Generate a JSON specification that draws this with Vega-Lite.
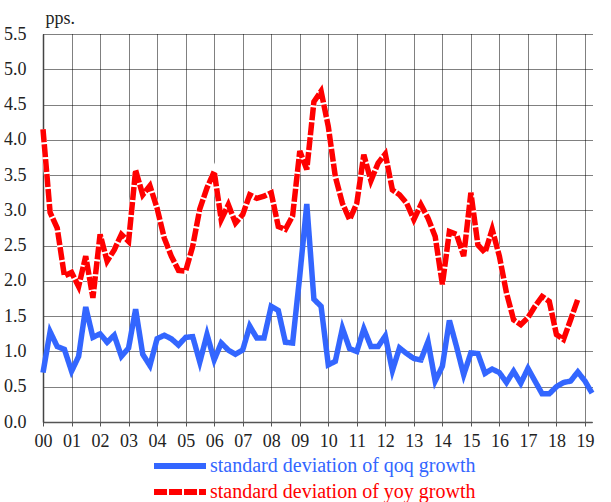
{
  "$schema": "https://vega.github.io/schema/vega-lite/v6.json",
  "width": 549,
  "height": 388,
  "autosize": {"type": "none"},
  "padding": {"left": 43, "top": 34, "right": 19, "bottom": 80},
  "background": "white",
  "config": {
    "view": {"stroke": null},
    "font": "Liberation Serif, DejaVu Serif, serif",
    "legend": {
      "orient": "none",
      "legendX": 125,
      "legendY": 420,
      "direction": "vertical",
      "symbolType": "M-3,0H3",
      "symbolSize": 300,
      "symbolStrokeWidth": 6,
      "labelFont": "Liberation Serif, DejaVu Serif, serif",
      "labelFontSize": 20,
      "labelOffset": 18,
      "labelLimit": 400,
      "rowPadding": 2,
      "labelColor": {"expr": "datum.value == 'qoq' ? '#3366ff' : '#ff0000'"}
    }
  },
  "data": {
    "values": [
      {"date": "2000-01-01", "qoq": 0.70, "yoy": 4.15},
      {"date": "2000-04-01", "qoq": 1.28, "yoy": 2.97},
      {"date": "2000-07-01", "qoq": 1.07, "yoy": 2.75},
      {"date": "2000-10-01", "qoq": 1.03, "yoy": 2.07},
      {"date": "2001-01-01", "qoq": 0.72, "yoy": 2.12},
      {"date": "2001-04-01", "qoq": 0.93, "yoy": 1.92},
      {"date": "2001-07-01", "qoq": 1.63, "yoy": 2.35},
      {"date": "2001-10-01", "qoq": 1.20, "yoy": 1.76},
      {"date": "2002-01-01", "qoq": 1.25, "yoy": 2.66},
      {"date": "2002-04-01", "qoq": 1.13, "yoy": 2.28},
      {"date": "2002-07-01", "qoq": 1.23, "yoy": 2.44},
      {"date": "2002-10-01", "qoq": 0.93, "yoy": 2.66},
      {"date": "2003-01-01", "qoq": 1.05, "yoy": 2.56},
      {"date": "2003-04-01", "qoq": 1.60, "yoy": 3.57},
      {"date": "2003-07-01", "qoq": 0.96, "yoy": 3.22},
      {"date": "2003-10-01", "qoq": 0.80, "yoy": 3.35},
      {"date": "2004-01-01", "qoq": 1.18, "yoy": 3.03},
      {"date": "2004-04-01", "qoq": 1.23, "yoy": 2.61},
      {"date": "2004-07-01", "qoq": 1.18, "yoy": 2.35},
      {"date": "2004-10-01", "qoq": 1.09, "yoy": 2.15},
      {"date": "2005-01-01", "qoq": 1.20, "yoy": 2.14},
      {"date": "2005-04-01", "qoq": 1.21, "yoy": 2.49},
      {"date": "2005-07-01", "qoq": 0.85, "yoy": 3.02},
      {"date": "2005-10-01", "qoq": 1.24, "yoy": 3.32},
      {"date": "2006-01-01", "qoq": 0.88, "yoy": 3.55},
      {"date": "2006-04-01", "qoq": 1.12, "yoy": 2.87},
      {"date": "2006-07-01", "qoq": 1.02, "yoy": 3.08},
      {"date": "2006-10-01", "qoq": 0.96, "yoy": 2.82},
      {"date": "2007-01-01", "qoq": 1.02, "yoy": 2.94},
      {"date": "2007-04-01", "qoq": 1.36, "yoy": 3.22},
      {"date": "2007-07-01", "qoq": 1.19, "yoy": 3.17},
      {"date": "2007-10-01", "qoq": 1.19, "yoy": 3.20},
      {"date": "2008-01-01", "qoq": 1.64, "yoy": 3.25},
      {"date": "2008-04-01", "qoq": 1.58, "yoy": 2.77},
      {"date": "2008-07-01", "qoq": 1.13, "yoy": 2.73},
      {"date": "2008-10-01", "qoq": 1.12, "yoy": 2.92},
      {"date": "2009-01-01", "qoq": 2.07, "yoy": 3.84},
      {"date": "2009-04-01", "qoq": 3.09, "yoy": 3.58},
      {"date": "2009-07-01", "qoq": 1.74, "yoy": 4.54},
      {"date": "2009-10-01", "qoq": 1.64, "yoy": 4.69},
      {"date": "2010-01-01", "qoq": 0.81, "yoy": 4.19},
      {"date": "2010-04-01", "qoq": 0.86, "yoy": 3.48},
      {"date": "2010-07-01", "qoq": 1.33, "yoy": 3.10},
      {"date": "2010-10-01", "qoq": 1.04, "yoy": 2.87},
      {"date": "2011-01-01", "qoq": 1.00, "yoy": 3.10},
      {"date": "2011-04-01", "qoq": 1.32, "yoy": 3.79},
      {"date": "2011-07-01", "qoq": 1.07, "yoy": 3.42},
      {"date": "2011-10-01", "qoq": 1.07, "yoy": 3.67},
      {"date": "2012-01-01", "qoq": 1.22, "yoy": 3.80},
      {"date": "2012-04-01", "qoq": 0.73, "yoy": 3.29},
      {"date": "2012-07-01", "qoq": 1.05, "yoy": 3.22},
      {"date": "2012-10-01", "qoq": 0.97, "yoy": 3.10},
      {"date": "2013-01-01", "qoq": 0.90, "yoy": 2.87},
      {"date": "2013-04-01", "qoq": 0.88, "yoy": 3.08},
      {"date": "2013-07-01", "qoq": 1.14, "yoy": 2.89},
      {"date": "2013-10-01", "qoq": 0.58, "yoy": 2.63},
      {"date": "2014-01-01", "qoq": 0.79, "yoy": 1.95},
      {"date": "2014-04-01", "qoq": 1.44, "yoy": 2.70},
      {"date": "2014-07-01", "qoq": 1.07, "yoy": 2.66},
      {"date": "2014-10-01", "qoq": 0.67, "yoy": 2.35},
      {"date": "2015-01-01", "qoq": 0.98, "yoy": 3.25},
      {"date": "2015-04-01", "qoq": 0.97, "yoy": 2.51},
      {"date": "2015-07-01", "qoq": 0.69, "yoy": 2.40},
      {"date": "2015-10-01", "qoq": 0.75, "yoy": 2.73},
      {"date": "2016-01-01", "qoq": 0.70, "yoy": 2.35},
      {"date": "2016-04-01", "qoq": 0.56, "yoy": 1.83},
      {"date": "2016-07-01", "qoq": 0.72, "yoy": 1.45},
      {"date": "2016-10-01", "qoq": 0.55, "yoy": 1.38},
      {"date": "2017-01-01", "qoq": 0.76, "yoy": 1.48},
      {"date": "2017-04-01", "qoq": 0.58, "yoy": 1.64},
      {"date": "2017-07-01", "qoq": 0.40, "yoy": 1.78},
      {"date": "2017-10-01", "qoq": 0.40, "yoy": 1.71},
      {"date": "2018-01-01", "qoq": 0.50, "yoy": 1.24},
      {"date": "2018-04-01", "qoq": 0.56, "yoy": 1.17},
      {"date": "2018-07-01", "qoq": 0.58, "yoy": 1.45},
      {"date": "2018-10-01", "qoq": 0.71, "yoy": 1.74},
      {"date": "2019-01-01", "qoq": 0.58, "yoy": null},
      {"date": "2019-04-01", "qoq": 0.41, "yoy": null}
    ]
  },
  "transform": [{"fold": ["qoq", "yoy"], "as": ["series", "value"]}],
  "encoding": {
    "x": {
      "field": "date",
      "type": "temporal",
      "scale": {
        "type": "utc",
        "domain": [
          {"year": 2000, "month": 1, "date": 1, "utc": true},
          {"year": 2019, "month": 4, "date": 1, "utc": true}
        ]
      },
      "axis": {
        "title": null,
        "tickCount": {"interval": "year", "step": 1},
        "labelExpr": "utcFormat(datum.value, '%y')",
        "grid": true,
        "gridColor": "#000000",
        "gridDash": [1, 1],
        "gridWidth": 1,
        "domainColor": "#555555",
        "domainWidth": 1.5,
        "tickColor": "#555555",
        "tickSize": 4,
        "labelFont": "Liberation Serif, DejaVu Serif, serif",
        "labelFontSize": 18,
        "labelColor": "#222222",
        "labelPadding": 6,
        "labelOverlap": false,
        "labelFlush": false
      }
    },
    "y": {
      "field": "value",
      "type": "quantitative",
      "scale": {"domain": [0, 5.5], "nice": false, "zero": true},
      "axis": {
        "title": "pps.",
        "titleAngle": 0,
        "titleAlign": "left",
        "titleBaseline": "alphabetic",
        "titleX": 2,
        "titleY": -11,
        "titleFont": "Liberation Serif, DejaVu Serif, serif",
        "titleFontSize": 18,
        "titleFontWeight": "normal",
        "titleColor": "#222222",
        "values": [0, 0.5, 1, 1.5, 2, 2.5, 3, 3.5, 4, 4.5, 5, 5.5],
        "format": ".1f",
        "ticks": false,
        "grid": true,
        "gridColor": "#000000",
        "gridDash": [1, 1],
        "gridWidth": 1,
        "domainColor": "#444444",
        "domainWidth": 1.5,
        "labelFont": "Liberation Serif, DejaVu Serif, serif",
        "labelFontSize": 18,
        "labelColor": "#222222",
        "labelPadding": 17
      }
    }
  },
  "layer": [
    {
      "transform": [{"filter": "datum.series == 'yoy'"}],
      "mark": {"type": "line", "stroke": "white", "strokeWidth": 6}
    },
    {
      "mark": {"type": "line", "strokeWidth": 5.5},
      "encoding": {
        "color": {
          "field": "series",
          "type": "nominal",
          "scale": {"domain": ["qoq", "yoy"], "range": ["#3366ff", "#ff0000"]},
          "legend": {
            "title": null,
            "labelExpr": "datum.value == 'qoq' ? 'standard deviation of qoq growth' : 'standard deviation of yoy growth'"
          }
        },
        "strokeDash": {
          "field": "series",
          "type": "nominal",
          "scale": {"domain": ["qoq", "yoy"], "range": [[1, 0], [13, 2]]},
          "legend": {
            "title": null,
            "labelExpr": "datum.value == 'qoq' ? 'standard deviation of qoq growth' : 'standard deviation of yoy growth'"
          }
        }
      }
    }
  ]
}
